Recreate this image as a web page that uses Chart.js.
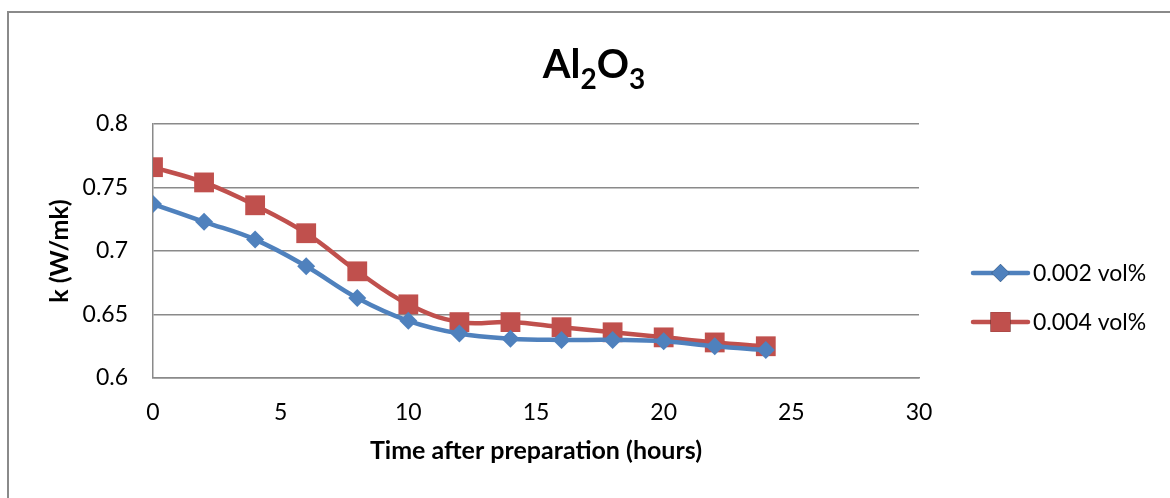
<!DOCTYPE html>
<html>
<head>
<meta charset="utf-8">
<title>Al2O3 thermal conductivity</title>
<script src="https://cdn.jsdelivr.net/npm/chart.js@4.4.1/dist/chart.umd.min.js"></script>
<style>
  html, body { margin: 0; padding: 0; background: #fff; overflow: hidden; }
  #wrap { position: relative; width: 1170px; height: 498px; }
  #frame {
    position: absolute; left: 7px; top: 11px; width: 1300px; height: 700px;
    border: 2px solid #8a8a8a; box-sizing: border-box;
  }
  canvas { position: absolute; left: 0; top: 0; }
</style>
</head>
<body>
<div id="wrap">
  <div id="frame"></div>
  <canvas id="chart" width="1170" height="498"></canvas>
</div>
<script>
// data
const hours = [0, 2, 4, 6, 8, 10, 12, 14, 16, 18, 20, 22, 24];
const k002 = [0.737, 0.723, 0.709, 0.688, 0.663, 0.645, 0.635, 0.631, 0.630, 0.630, 0.629, 0.625, 0.622];
const k004 = [0.766, 0.754, 0.736, 0.714, 0.684, 0.658, 0.644, 0.644, 0.640, 0.636, 0.632, 0.628, 0.625];
const seriesNames = ["0.002 vol%", "0.004 vol%"];
const xTickLabels = ["0", "5", "10", "15", "20", "25", "30"];
const yTickLabels = ["0.6", "0.65", "0.7", "0.75", "0.8"];
const titleParts = [["Al", false], ["2", true], ["O", false], ["3", true]];

const FONT = "Lato, 'Open Sans', sans-serif";
const BLUE = "#4f81bd";
const RED = "#c0504d";
const GRID = "#8a8a8a";

function toPoints(ys) {
  return hours.map((h, i) => ({ x: h, y: ys[i] }));
}

// title with subscripts, drawn on the canvas
const titlePlugin = {
  id: "subTitle",
  afterDraw(chart) {
    const ctx = chart.ctx;
    const big = "bold 40px " + FONT;
    const small = "bold 28px " + FONT;
    ctx.save();
    let total = 0;
    titleParts.forEach(([txt, sub]) => {
      ctx.font = sub ? small : big;
      total += ctx.measureText(txt).width;
    });
    let x = 594 - total / 2;
    const base = 78;
    ctx.fillStyle = "#000";
    ctx.textBaseline = "alphabetic";
    titleParts.forEach(([txt, sub]) => {
      ctx.font = sub ? small : big;
      ctx.fillText(txt, x, sub ? base + 11 : base);
      x += ctx.measureText(txt).width;
    });
    ctx.restore();
  }
};

// excel-like legend: line with marker in the middle, then label
const legendPlugin = {
  id: "lineLegend",
  afterDraw(chart) {
    const ctx = chart.ctx;
    const left = chart.chartArea.right + 54;
    const rows = [273, 322];
    ctx.save();
    chart.data.datasets.forEach((ds, i) => {
      const y = rows[i];
      ctx.strokeStyle = ds.borderColor;
      ctx.lineWidth = 4.5;
      ctx.lineCap = "round";
      ctx.beginPath();
      ctx.moveTo(left, y);
      ctx.lineTo(left + 55, y);
      ctx.stroke();
      Chart.helpers.drawPoint(ctx, {
        pointStyle: ds.pointStyle,
        radius: ds.pointRadius,
        borderWidth: 0
      }, left + 27.5, y);
      ctx.fillStyle = ds.backgroundColor;
      ctx.fill();
      ctx.fillStyle = "#000";
      ctx.font = "23px " + FONT;
      ctx.textBaseline = "middle";
      ctx.fillText(ds.label, left + 60, y + 1);
    });
    ctx.restore();
  }
};

const chart = new Chart(document.getElementById("chart"), {
  type: "line",
  data: {
    datasets: [
      {
        label: seriesNames[0],
        data: toPoints(k002),
        borderColor: BLUE,
        backgroundColor: BLUE,
        borderWidth: 4.5,
        pointStyle: "rectRot",
        pointRadius: 9,
        pointBorderWidth: 0,
        tension: 0.4
      },
      {
        label: seriesNames[1],
        data: toPoints(k004),
        borderColor: RED,
        backgroundColor: RED,
        borderWidth: 4.5,
        pointStyle: "rect",
        pointRadius: 14,
        pointBorderWidth: 0,
        tension: 0.4
      }
    ]
  },
  options: {
    responsive: false,
    animation: false,
    events: [],
    layout: { padding: { left: 0, right: 251, top: 124, bottom: 0 } },
    plugins: {
      legend: { display: false },
      title: { display: false },
      tooltip: { enabled: false }
    },
    scales: {
      x: {
        type: "linear",
        min: 0,
        max: 30,
        afterFit: (scale) => { scale.height = 120; },
        ticks: {
          stepSize: 5,
          padding: 21,
          color: "#000",
          font: { family: FONT, size: 23 },
          callback: (v, i) => xTickLabels[i]
        },
        grid: { display: false, drawTicks: false },
        border: { display: true, color: GRID, width: 1.5 },
        title: {
          display: true,
          text: "Time after preparation (hours)",
          color: "#000",
          font: { family: FONT, size: 25, weight: "bold" },
          padding: { top: 0, bottom: 32 }
        }
      },
      y: {
        min: 0.6,
        max: 0.8,
        afterFit: (scale) => { scale.width = 153; },
        ticks: {
          stepSize: 0.05,
          padding: 25,
          color: "#000",
          font: { family: FONT, size: 23 },
          callback: (v, i) => yTickLabels[i]
        },
        grid: { color: GRID, lineWidth: 1.5, drawTicks: false },
        border: { display: true, color: GRID, width: 1.5 },
        title: {
          display: true,
          text: "k (W/mk)",
          color: "#000",
          font: { family: FONT, size: 25, weight: "bold" },
          padding: { top: 45, bottom: 0 }
        }
      }
    }
  },
  plugins: [titlePlugin, legendPlugin]
});
</script>
</body>
</html>
